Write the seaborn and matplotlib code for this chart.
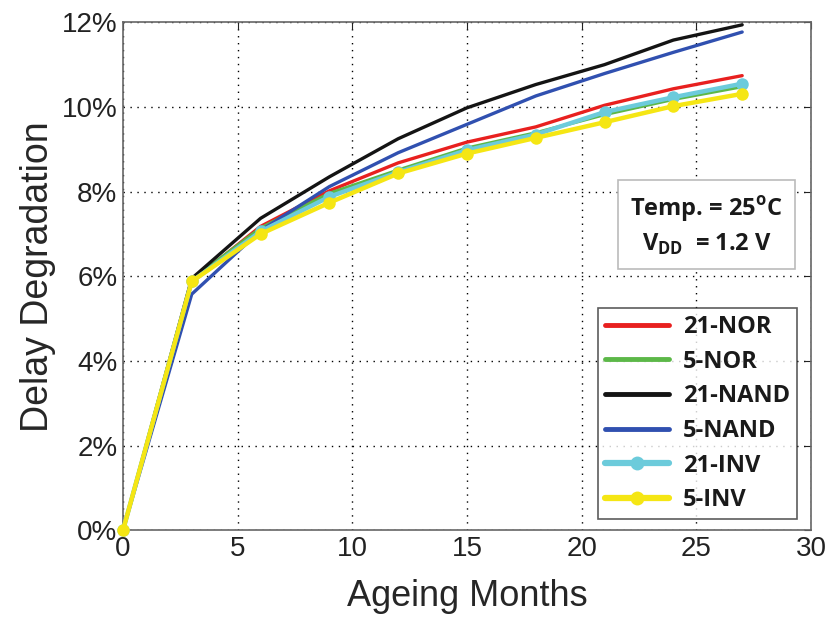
import numpy as np
import pandas as pd
import matplotlib
matplotlib.use('Agg')
import matplotlib.pyplot as plt
from matplotlib.ticker import PercentFormatter
from matplotlib.lines import Line2D
import seaborn as sns

months = [0, 3, 6, 9, 12, 15, 18, 21, 24, 27]
nor21 = [0, 5.88, 7.18, 8.02, 8.68, 9.17, 9.53, 10.04, 10.43, 10.74]
nor5 = [0, 5.92, 7.14, 7.96, 8.51, 9.03, 9.39, 9.82, 10.18, 10.48]
nand21 = [0, 5.95, 7.37, 8.35, 9.25, 9.98, 10.53, 11.00, 11.58, 11.94]
nand5 = [0, 5.58, 7.08, 8.12, 8.92, 9.59, 10.26, 10.79, 11.29, 11.77]
inv21 = [0, 5.88, 7.06, 7.88, 8.46, 8.98, 9.35, 9.88, 10.23, 10.55]
inv5 = [0, 5.88, 7.00, 7.74, 8.43, 8.90, 9.27, 9.64, 10.02, 10.31]

names = ['21-NOR', '5-NOR', '21-NAND', '5-NAND', '21-INV', '5-INV']
series = [nor21, nor5, nand21, nand5, inv21, inv5]
colors = ['#e8201f', '#5cb848', '#141414', '#3050b0', '#6ccbdb', '#f5e614']

sns.set_style('white')
plt.rcParams['font.family'] = ['Liberation Sans', 'DejaVu Sans']
plt.rcParams['mathtext.fontset'] = 'custom'
plt.rcParams['mathtext.rm'] = 'Open Sans:bold'
plt.rcParams['mathtext.bf'] = 'Open Sans:bold'

df = pd.concat([pd.DataFrame({'month': months, 'deg': s, 'gate': n})
                for n, s in zip(names, series)])

fig = plt.figure(figsize=(8.25, 6.19), dpi=100)
ax = fig.add_axes([0.149, 0.143, 0.834, 0.821])

for n, c in zip(names, colors):
    d = df[df['gate'] == n]
    inv = 'INV' in n
    sns.lineplot(x='month', y='deg', data=d, color=c, ax=ax,
                 lw=3.2 if inv else 2.4,
                 marker='o' if inv else None, markersize=9 if inv else 0,
                 markeredgewidth=0, legend=False, zorder=3, clip_on=False)

ax.set_xlim(0, 30)
ax.set_ylim(0, 12)
ax.set_xticks(range(0, 31, 5))
ax.set_yticks(range(0, 13, 2))
ax.yaxis.set_major_formatter(PercentFormatter(decimals=0))
ax.grid(True, color='black', linestyle=(0, (1, 4)), linewidth=1.0)
ax.tick_params(direction='in', length=5, labelsize=20, colors='#222222',
               top=True, right=True, pad=4)
for sp in ax.spines.values():
    sp.set_color('#666666')
    sp.set_linewidth(1.2)
ax.set_xlabel('Ageing Months', fontsize=26, labelpad=12)
ax.set_ylabel('Delay Degradation', fontsize=27, labelpad=4)

handles = []
for n, c in zip(names, colors):
    inv = 'INV' in n
    handles.append(Line2D([], [], color=c, lw=4.5 if inv else 3.5,
                          marker='o' if inv else None, markersize=10,
                          markeredgewidth=0))
leg = ax.legend(handles, names, loc='lower right', bbox_to_anchor=(0.98, 0.022),
                borderaxespad=0,
                prop={'family': 'Open Sans', 'weight': 'bold', 'size': 17},
                frameon=True, fancybox=False, edgecolor='#333333',
                handlelength=2.7, labelspacing=0.45, borderpad=0.3,
                handletextpad=0.6)
leg.get_frame().set_linewidth(1.2)
for t in leg.get_texts():
    t.set_color('#1a1a1a')

ax.text(0.848, 0.60, 'Temp. = 25$^\\mathrm{o}$C\nV$_\\mathrm{DD}$  = 1.2 V',
        transform=ax.transAxes, ha='center', va='center',
        fontsize=17, family='Open Sans', fontweight='bold', color='#1a1a1a',
        linespacing=1.35,
        bbox=dict(boxstyle='square,pad=0.5', fc='white', ec='#bbbbbb', lw=1.2))

fig.savefig('out.png', dpi=100)
